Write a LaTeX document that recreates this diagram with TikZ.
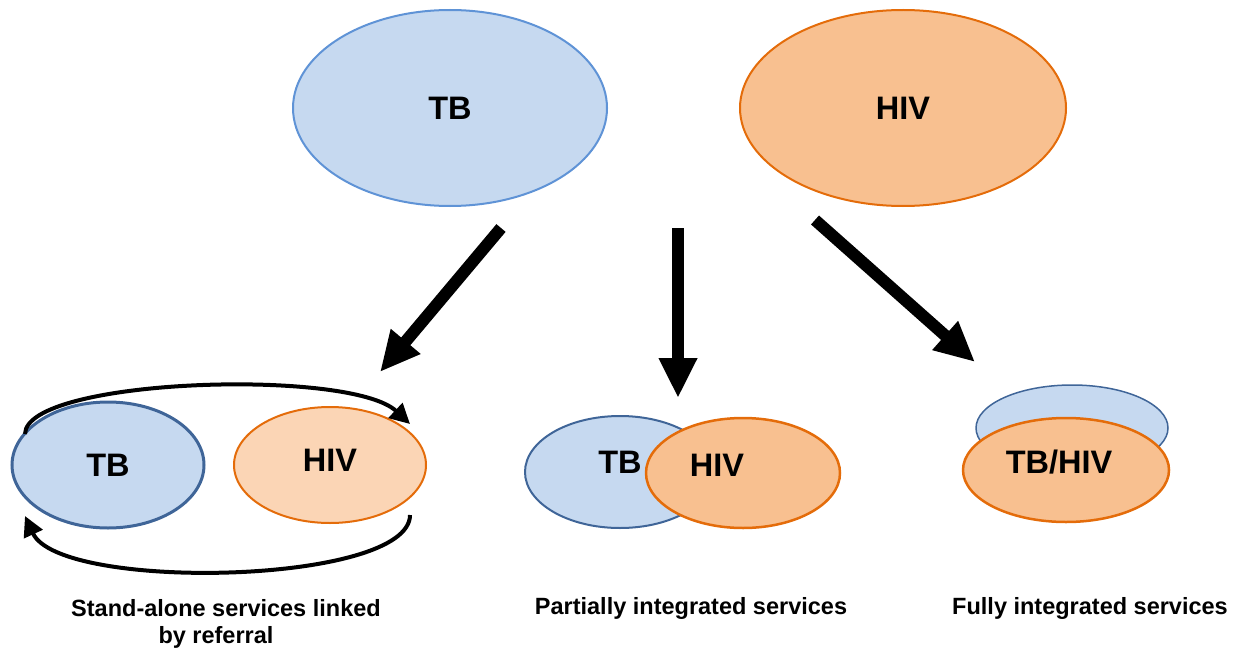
\documentclass[tikz,border=0pt]{standalone}
\usepackage{fontspec}
\setmainfont{Liberation Sans}
\usetikzlibrary{shapes.geometric,arrows.meta}
\definecolor{tbfill}{HTML}{C6D9F0}
\definecolor{tbline}{HTML}{5F93D6}
\definecolor{tbdark}{HTML}{3F6598}
\definecolor{hivfill}{HTML}{F8C090}
\definecolor{hivlight}{HTML}{FBD5B5}
\definecolor{hivline}{HTML}{E46C0A}
\tikzset{
  ell/.style={ellipse, inner sep=0pt, outer sep=0pt},
  bigtext/.style={font=\fontsize{32.5}{38}\selectfont\bfseries},
  captext/.style={font=\fontsize{23.5}{29}\selectfont\bfseries, align=center},
  fatarrow/.style={line width=12pt, -{Triangle[length=40pt,width=36pt]}},
  curvarrow/.style={line width=4pt, -{Triangle[length=20pt,width=20pt]}}
}
\begin{document}
\begin{tikzpicture}[x=1pt,y=-1pt]
\useasboundingbox (0,0) rectangle (1238,650);
% top ellipses
\node[ell, draw=tbline, line width=2pt, fill=tbfill, minimum width=314pt, minimum height=196pt, bigtext] (tbtop) at (450,108) {TB};
\node[ell, draw=hivline, line width=2pt, fill=hivfill, minimum width=326pt, minimum height=196pt, bigtext] (hivtop) at (903,108) {HIV};
% big arrows
\coordinate (a1s) at (501,228); \coordinate (a1e) at (380,372);
\coordinate (a2s) at (678,228); \coordinate (a2e) at (678,398);
\coordinate (a3s) at (815,220); \coordinate (a3e) at (975,362);
\draw[fatarrow] (a1s) -- (a1e);
\draw[fatarrow] (a2s) -- (a2e);
\draw[fatarrow] (a3s) -- (a3e);
% left: stand-alone
\node[ell, draw=tbdark, line width=3pt, fill=tbfill, minimum width=192pt, minimum height=126pt, bigtext] (tbl) at (108,465) {TB};
\node[ell, draw=hivline, line width=2pt, fill=hivlight, minimum width=192pt, minimum height=116pt] (hivl) at (330,465) {};
\node[bigtext] (hivltxt) at (330,460) {HIV};
\coordinate (ls1) at (25,434); \coordinate (le1) at (410,424);
\coordinate (ls2) at (410,515); \coordinate (le2) at (25,516);
\draw[curvarrow] (ls1) .. controls (26,378) and (350,368) .. (le1);
\draw[curvarrow] (ls2) .. controls (410,585) and (60,592) .. (le2);
% middle: partially integrated
\node[ell, draw=tbdark, line width=2pt, fill=tbfill, minimum width=190pt, minimum height=112pt] (tbm) at (620,472) {};
\node[bigtext] (tbmtxt) at (620,462) {TB};
\node[ell, draw=hivline, line width=2.5pt, fill=hivfill, minimum width=194pt, minimum height=110pt] (hivm) at (743,473) {};
\node[bigtext] (hivmtxt) at (717,465) {HIV};
% right: fully integrated
\node[ell, draw=tbdark, line width=1.5pt, fill=tbfill, minimum width=192pt, minimum height=86pt] (tbr) at (1072,428) {};
\node[ell, draw=hivline, line width=2.5pt, fill=hivfill, minimum width=206pt, minimum height=104pt] (hivr) at (1066,470) {};
\node[bigtext] (tbhivtxt) at (1059,462) {TB/HIV};
% captions
\node[captext] (c1a) at (226,608) {Stand-alone services linked};
\node[captext] (c1b) at (216,637) {by referral};
\node[captext] (c2) at (691,608) {Partially integrated services};
\node[captext] (c3) at (1090,608) {Fully integrated services};
\end{tikzpicture}
\end{document}
